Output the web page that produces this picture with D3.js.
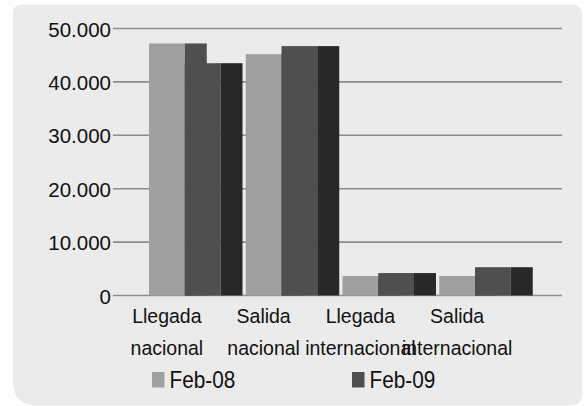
<!DOCTYPE html>
<html>
<head>
<meta charset="utf-8">
<script src="https://cdn.jsdelivr.net/npm/d3@7"></script>
<style>
  html, body { margin: 0; padding: 0; background: #ffffff; }
  svg { display: block; }
  text { font-family: "Liberation Sans", Arial, sans-serif; fill: #111111; }
</style>
</head>
<body>
<svg id="chart" width="585" height="406"></svg>
<script>
// Passenger movements by route type, February 2008 vs February 2009
const categories = ["Llegada nacional", "Salida nacional", "Llegada internacional", "Salida internacional"];
const series = ["Feb-08", "Feb-09"];
const feb08 = [47200, 45200, 3650, 3650];
const feb09 = [43500, 46700, 4200, 5300];
const yTicks = [0, 10000, 20000, 30000, 40000, 50000];

const values = [feb08, feb09];
const frontColors = ["#a0a0a0", "#4f4f4f"];
const sideColors = ["#4f4f4f", "#282828"];

const svg = d3.select("#chart");

// Panel background with uneven rounded corners
function roundedPath(x0, y0, x1, y1, tl, tr, br, bl) {
  const p = d3.path();
  p.moveTo(x0 + tl, y0);
  p.lineTo(x1 - tr, y0);
  p.quadraticCurveTo(x1, y0, x1, y0 + tr);
  p.lineTo(x1, y1 - br);
  p.quadraticCurveTo(x1, y1, x1 - br, y1);
  p.lineTo(x0 + bl, y1);
  p.quadraticCurveTo(x0, y1, x0, y1 - bl);
  p.lineTo(x0, y0 + tl);
  p.quadraticCurveTo(x0, y0, x0 + tl, y0);
  p.closePath();
  return p.toString();
}
svg.append("path")
  .attr("d", roundedPath(13, 4.5, 582.5, 405.5, 9, 12, 12, 24))
  .attr("fill", "#ebebeb");

// Scales
const gridLeft = 113, gridRight = 562;
const y = d3.scaleLinear().domain([0, 50000]).range([295.5, 28.5]);
const x = d3.scaleBand().domain(categories).range([147.5, 534.5]).paddingInner(0);
const xs = d3.scaleBand().domain(series).range([1.5, 73]);
const depth = 22;

// Gridlines (extend a little left of the plot as tick marks)
svg.append("g").selectAll("line")
  .data(yTicks)
  .join("line")
  .attr("x1", gridLeft).attr("x2", gridRight)
  .attr("y1", d => y(d)).attr("y2", d => y(d))
  .attr("stroke", "#8c8c8c")
  .attr("stroke-width", 1.6);

// Y labels
const fmt = d3.formatLocale({ decimal: ",", thousands: ".", grouping: [3] }).format(",d");
svg.append("g").selectAll("text")
  .data(yTicks)
  .join("text")
  .attr("x", 111)
  .attr("y", d => y(d) + 8)
  .attr("text-anchor", "end")
  .attr("font-size", 20.5)
  .text(d => fmt(d));

// Bars: front face plus darker side face, series drawn in order
series.forEach((s, si) => {
  const g = svg.append("g");
  const rows = categories.map((c, ci) => ({ c, v: values[si][ci] }));
  g.selectAll("rect.front")
    .data(rows)
    .join("rect")
    .attr("class", "front")
    .attr("x", d => x(d.c) + xs(s))
    .attr("width", xs.bandwidth())
    .attr("y", d => y(d.v))
    .attr("height", d => y(0) - y(d.v))
    .attr("fill", frontColors[si]);
  g.selectAll("rect.side")
    .data(rows)
    .join("rect")
    .attr("class", "side")
    .attr("x", d => x(d.c) + xs(s) + xs.bandwidth())
    .attr("width", depth)
    .attr("y", d => y(d.v))
    .attr("height", d => y(0) - y(d.v))
    .attr("fill", sideColors[si]);
});

// Category labels on two lines
const labels = svg.append("g").selectAll("text")
  .data(categories)
  .join("text")
  .attr("text-anchor", "middle")
  .attr("font-size", 19.5)
  .attr("transform", d => `translate(${x(d) + xs(series[0]) + xs.bandwidth() / 2},322.5) scale(1,1.04)`);
labels.selectAll("tspan")
  .data(d => d.split(" "))
  .join("tspan")
  .attr("x", 0)
  .attr("dy", (d, i) => i === 0 ? 0 : 30.8)
  .text(d => d);

// Legend
const legendX = [152, 352];
const legend = svg.append("g").selectAll("g")
  .data(series)
  .join("g")
  .attr("transform", (d, i) => `translate(${legendX[i]},372)`);
legend.append("rect")
  .attr("width", 12.5).attr("height", 15.5)
  .attr("fill", (d, i) => frontColors[i]);
legend.append("text")
  .attr("transform", "translate(17.5,16) scale(1,1.12)")
  .attr("font-size", 20.8)
  .text(d => d);
</script>
</body>
</html>
